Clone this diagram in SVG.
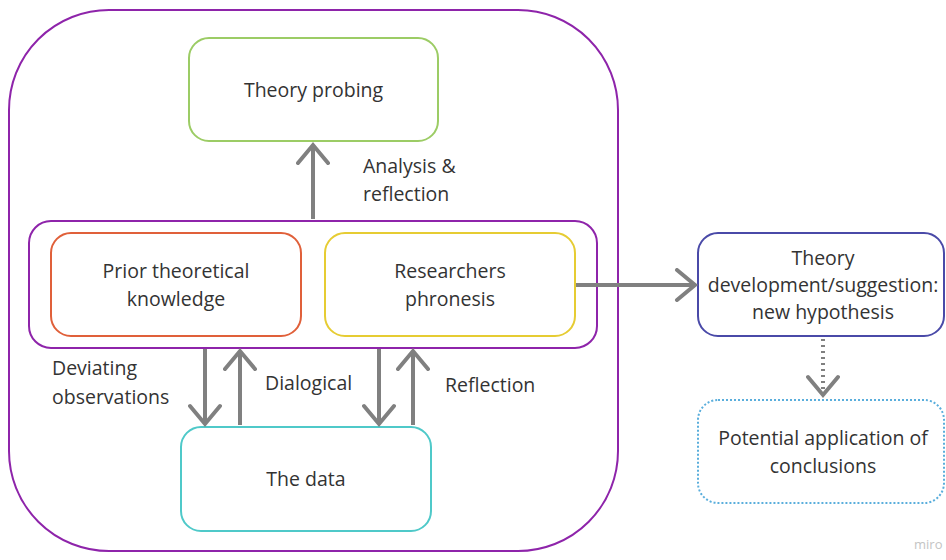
<svg xmlns="http://www.w3.org/2000/svg" width="946" height="560" viewBox="0 0 946 560">
  <defs>
    <marker id="chev" viewBox="0 0 26 34" refX="21" refY="17" markerWidth="26" markerHeight="34" markerUnits="userSpaceOnUse" orient="auto">
      <path d="M3 2 L21 17 L3 32" fill="none" stroke="#808080" stroke-width="4" stroke-linecap="round" stroke-linejoin="miter"/>
    </marker>
  </defs>
  <style>
    text { font-family: "Open Sans", "Noto Sans", "Liberation Sans", sans-serif; font-size: 19.5px; fill: #333333; }
    .c { text-anchor: middle; }
    .box { fill: #ffffff; stroke-width: 2; }
    .arrow { stroke: #808080; stroke-width: 4; fill: none; marker-end: url(#chev); }
  </style>
  <rect width="946" height="560" fill="#ffffff"/>

  <g id="outer-frame">
    <rect x="9" y="10" width="609" height="541" rx="100" ry="100" fill="none" stroke="#8e24aa" stroke-width="2"/>
  </g>

  <g id="theory-probing">
    <rect class="box" x="189" y="38" width="249" height="103" rx="20" stroke="#9ccc65"/>
    <text class="c" x="313.5" y="97">Theory probing</text>
  </g>

  <g id="core-group">
    <rect x="29" y="221" width="568" height="127" rx="22" fill="#ffffff" stroke="#8e24aa" stroke-width="2"/>
  </g>

  <g id="prior-knowledge">
    <rect class="box" x="51" y="233" width="250" height="103" rx="20" stroke="#e0603a"/>
    <text class="c" x="176" y="278">Prior theoretical</text>
    <text class="c" x="176" y="306">knowledge</text>
  </g>

  <g id="researchers-phronesis">
    <rect class="box" x="325" y="233" width="250" height="103" rx="20" stroke="#e6cc33"/>
    <text class="c" x="450" y="278">Researchers</text>
    <text class="c" x="450" y="306">phronesis</text>
  </g>

  <g id="the-data">
    <rect class="box" x="181" y="427" width="250" height="104" rx="20" stroke="#4fc9c9"/>
    <text class="c" x="306" y="486">The data</text>
  </g>

  <g id="theory-development">
    <rect class="box" x="698" y="233" width="246" height="103" rx="20" stroke="#4a4aa8"/>
    <text class="c" x="823" y="265">Theory</text>
    <text class="c" x="823" y="292">development/suggestion:</text>
    <text class="c" x="823" y="319">new hypothesis</text>
  </g>

  <g id="potential-application">
    <rect class="box" x="698" y="400" width="246" height="103" rx="20" stroke="#5aaedc" stroke-dasharray="2 2"/>
    <text class="c" x="823" y="445">Potential application of</text>
    <text class="c" x="823" y="473">conclusions</text>
  </g>

  <g id="connectors">
    <line class="arrow" x1="313" y1="219" x2="313" y2="145"/>
    <line class="arrow" x1="205" y1="349" x2="205" y2="424"/>
    <line class="arrow" x1="240" y1="425" x2="240" y2="351"/>
    <line class="arrow" x1="379" y1="349" x2="379" y2="424"/>
    <line class="arrow" x1="413" y1="425" x2="413" y2="351"/>
    <line class="arrow" x1="576" y1="285" x2="695" y2="285"/>
    <line x1="823" y1="339" x2="823" y2="395" stroke="#808080" stroke-width="4" stroke-dasharray="2 4" marker-end="url(#chev)"/>
  </g>

  <g id="labels">
    <text x="363" y="173">Analysis &amp;</text>
    <text x="363" y="201">reflection</text>
    <text x="52" y="375">Deviating</text>
    <text x="52" y="404">observations</text>
    <text x="265" y="390">Dialogical</text>
    <text x="445" y="392">Reflection</text>
    <text x="914" y="549" style="font-size:13px; fill:#c4c4c4">miro</text>
  </g>
</svg>
